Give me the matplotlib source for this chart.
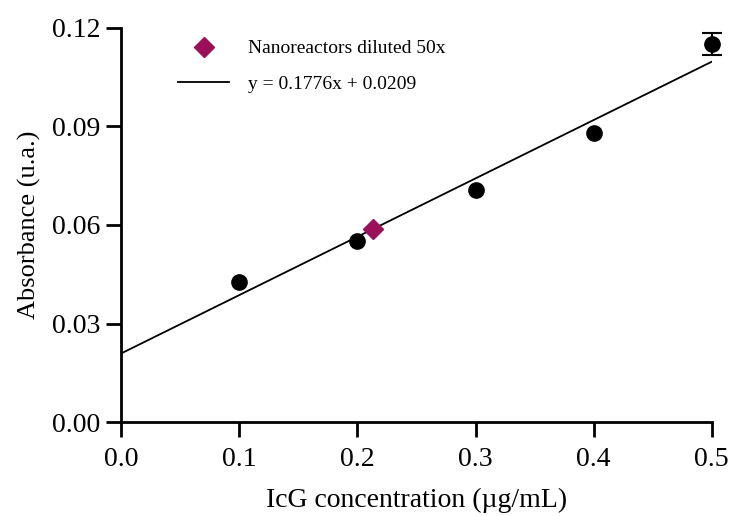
import matplotlib.pyplot as plt
import numpy as np

# concentration (ug/mL) vs absorbance
conc = [0.1, 0.2, 0.3, 0.4, 0.5]
absorb = [0.0427, 0.0550, 0.0705, 0.0880, 0.1150]
absorb_err = [0.0, 0.0, 0.0, 0.0, 0.0034]

# sample point
sample_x = [0.213]
sample_y = [0.0589]

slope = 0.1776
intercept = 0.0209
fit_x = [0.0, 0.5]

plt.rcParams['font.family'] = ['Liberation Serif', 'DejaVu Serif']

fig = plt.figure(figsize=(7.3, 5.16), dpi=100)
ax = fig.add_axes([0.166, 0.182, 0.809, 0.764])

fit_y = [slope * x + intercept for x in fit_x]
ax.plot(fit_x, fit_y, color='black', linewidth=1.3, label='y = 0.1776x + 0.0209', zorder=2)

# only show error bars where there is an error
err_idx = [i for i, e in enumerate(absorb_err) if e > 0]
ax.errorbar([conc[i] for i in err_idx], [absorb[i] for i in err_idx],
            yerr=[absorb_err[i] for i in err_idx], fmt='none', ecolor='black',
            capsize=7, elinewidth=1.5, capthick=1.5, zorder=3, clip_on=False)
ax.plot(conc, absorb, linestyle='none', marker='o', color='black', markersize=11,
        zorder=3, clip_on=False)
ax.plot(sample_x, sample_y, linestyle='none', marker='D', color='#9B1159', markersize=10,
        label='Nanoreactors diluted 50x', zorder=4)

ax.set_xlim(0, 0.5)
ax.set_ylim(0, 0.12)
ax.set_xticks(np.arange(0, 0.51, 0.1))
ax.set_yticks(np.arange(0, 0.121, 0.03))
ax.xaxis.set_major_formatter(plt.FormatStrFormatter('%.1f'))
ax.yaxis.set_major_formatter(plt.FormatStrFormatter('%.2f'))

for side in ['top', 'right']:
    ax.spines[side].set_visible(False)
for side in ['left', 'bottom']:
    ax.spines[side].set_linewidth(2)
ax.tick_params(direction='out', length=11, width=2, labelsize=20)
ax.tick_params(axis='x', pad=7)
ax.tick_params(axis='y', pad=4)

ax.set_xlabel('IcG concentration (\u00b5g/mL)', fontsize=20, labelpad=11)
ax.set_ylabel('Absorbance (u.a.)', fontsize=19, labelpad=8)

handles, labels = ax.get_legend_handles_labels()
ax.legend(handles[::-1], labels[::-1], loc='upper left', bbox_to_anchor=(0.067, 1.014),
          frameon=False, fontsize=14, handlelength=2.6, labelspacing=0.9, handletextpad=1.0)

fig.savefig('out.png', dpi=100)
